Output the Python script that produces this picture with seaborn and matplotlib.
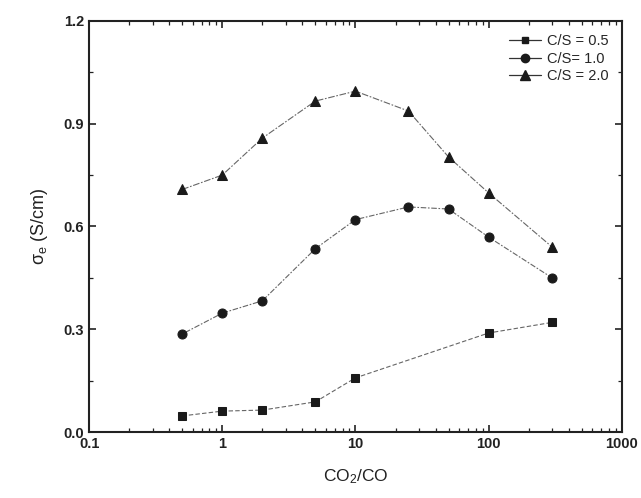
import numpy as np
import pandas as pd
import matplotlib
matplotlib.use("Agg")
import matplotlib.pyplot as plt
from matplotlib.ticker import LogLocator, MultipleLocator, FixedLocator, FixedFormatter
from matplotlib.lines import Line2D
import seaborn as sns

ratio = [0.5, 1, 2, 5, 10, 25, 50, 100, 300]
cs05 = [0.047, 0.061, 0.064, 0.088, 0.158, None, None, 0.289, 0.32]
cs10 = [0.286, 0.347, 0.383, 0.535, 0.62, 0.657, 0.651, 0.569, 0.45]
cs20 = [0.708, 0.75, 0.858, 0.966, 0.995, 0.937, 0.803, 0.698, 0.54]
labels = ["C/S = 0.5", "C/S= 1.0", "C/S = 2.0"]
xticks = [0.1, 1, 10, 100, 1000]
xticklabels = ["0.1", "1", "10", "100", "1000"]

rows = []
for lab, vals in zip(labels, [cs05, cs10, cs20]):
    for x, v in zip(ratio, vals):
        if v is not None:
            rows.append({"ratio": x, "sigma": v, "series": lab})
df = pd.DataFrame(rows)

sns.set_style("ticks")
plt.rcParams['font.family'] = ['Liberation Sans', 'DejaVu Sans']
plt.rcParams['mathtext.fontset'] = 'custom'
plt.rcParams['mathtext.rm'] = 'Liberation Sans'
plt.rcParams['mathtext.it'] = 'Liberation Sans'

fig = plt.figure(figsize=(6.41, 4.98), dpi=100)
ax = fig.add_axes([0.139, 0.1325, 0.831, 0.8255])

markers = {labels[0]: "s", labels[1]: "o", labels[2]: "^"}
dashes = {labels[0]: (4, 2), labels[1]: (1.5, 1.5, 5, 1.5), labels[2]: (6, 1.5, 1.5, 1.5)}
sizes_m = {labels[0]: 5.5, labels[1]: 6.5, labels[2]: 7}

for lab in labels:
    sub = df[df.series == lab]
    sns.lineplot(data=sub, x="ratio", y="sigma", ax=ax, color="#666666",
                 linewidth=0.8, marker=markers[lab], markersize=sizes_m[lab],
                 markerfacecolor="#1a1a1a", markeredgecolor="#1a1a1a",
                 label=lab, legend=False)
    ax.lines[-1].set_dashes(dashes[lab])

ax.set_xscale("log")
ax.set_xlim(0.1, 1000)
ax.set_ylim(0, 1.2)
ax.xaxis.set_major_locator(FixedLocator(xticks))
ax.xaxis.set_major_formatter(FixedFormatter(xticklabels))
ax.xaxis.set_minor_locator(LogLocator(base=10, subs=np.arange(2, 10)))
ax.yaxis.set_major_locator(MultipleLocator(0.3))
ax.yaxis.set_minor_locator(MultipleLocator(0.15))
ax.yaxis.set_major_formatter(matplotlib.ticker.FormatStrFormatter("%.1f"))

ax.tick_params(which="both", direction="in", top=True, right=True, colors="#222222")
ax.tick_params(which="major", length=5, width=1.2, labelsize=10.5)
ax.tick_params(which="minor", length=3, width=0.9)
for lbl in ax.get_xticklabels() + ax.get_yticklabels():
    lbl.set_fontweight("bold")
    lbl.set_color("#222222")
for s in ax.spines.values():
    s.set_linewidth(1.5)
    s.set_color("#222222")
    s.set_visible(True)

ax.set_xlabel("CO$_2$/CO", fontsize=12.5, color="#222222", labelpad=12)
ax.set_ylabel(r"$\sigma_e$ (S/cm)", fontsize=13, color="#222222", labelpad=10)

handles = [Line2D([0], [0], color="#333333", lw=0.9, marker=markers[l],
                  markersize=sizes_m[l] - 0.5, markerfacecolor="#1a1a1a",
                  markeredgecolor="#1a1a1a") for l in labels]
ax.legend(handles, labels, loc="upper right", frameon=False, fontsize=10.5,
          handlelength=2.2, handletextpad=0.4, labelspacing=0.25,
          borderaxespad=0.5)

fig.savefig("out.png", dpi=100)
